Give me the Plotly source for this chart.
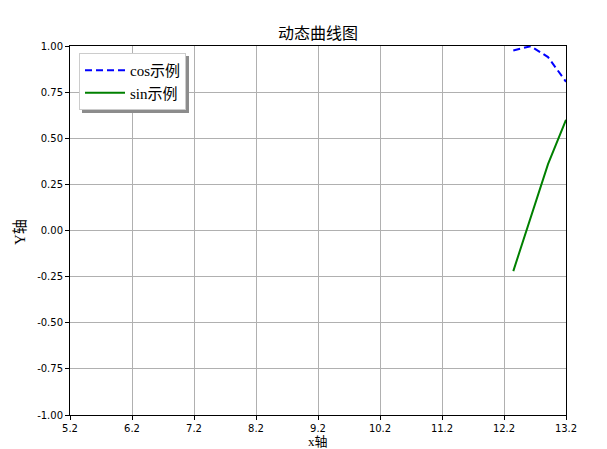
import plotly.graph_objects as go

# snapshot of the animation (last frame shown)
x_vals = [12.35, 12.63, 12.91, 13.2]
cos_vals = [0.976, 0.999, 0.940, 0.806]
sin_vals = [-0.22, 0.07, 0.36, 0.60]

x_ticks = [5.2, 6.2, 7.2, 8.2, 9.2, 10.2, 11.2, 12.2, 13.2]
x_ticktext = ["5.2", "6.2", "7.2", "8.2", "9.2", "10.2", "11.2", "12.2", "13.2"]
y_ticks = [-1.0, -0.75, -0.5, -0.25, 0.0, 0.25, 0.5, 0.75, 1.0]
y_ticktext = ["-1.00", "-0.75", "-0.50", "-0.25", "0.00", "0.25", "0.50", "0.75", "1.00"]

serif = "Liberation Serif, Noto Sans CJK SC, serif"
sans = "DejaVu Sans, sans-serif"

# page body has an 8px margin, so the figure is drawn 8px smaller
W, H = 599, 441
L, R, T, B = 62, 41, 38, 34
pw, ph = W - L - R, H - T - B

def px(x):
    return (x - 8 - L) / pw

def py(y):
    return (H - B - (y - 8)) / ph

fig = go.Figure()
fig.add_trace(go.Scatter(x=x_vals, y=cos_vals, mode="lines", name="cos示例",
                         line=dict(color="blue", width=2, dash="7px,4px")))
fig.add_trace(go.Scatter(x=x_vals, y=sin_vals, mode="lines", name="sin示例",
                         line=dict(color="green", width=2)))

axis_common = dict(showline=True, linecolor="black", linewidth=1, mirror=True,
                   showgrid=True, gridcolor="#b0b0b0", gridwidth=1,
                   ticks="outside", ticklen=4, tickcolor="black", automargin=False,
                   tickfont=dict(family=sans, size=10, color="black"), zeroline=False)

fig.update_xaxes(range=[5.2, 13.2], tickvals=x_ticks, ticktext=x_ticktext, **axis_common)
fig.update_yaxes(range=[-1.0, 1.0], tickvals=y_ticks, ticktext=y_ticktext, **axis_common)

# axis titles
fig.add_annotation(text="x轴", xref="paper", yref="paper", x=0.5, y=py(441.5),
                   xanchor="center", yanchor="middle", showarrow=False, borderpad=0,
                   font=dict(family=serif, size=13, color="black"))
fig.add_annotation(text="Y轴", xref="paper", yref="paper", x=px(20), y=py(232),
                   xanchor="center", yanchor="middle", textangle=-90, showarrow=False,
                   font=dict(family=serif, size=15, color="black"))

# legend shadow
fig.add_shape(type="rect", xref="paper", yref="paper",
              x0=px(82), x1=px(189), y0=py(113), y1=py(56),
              fillcolor="#8c8c8c", line=dict(width=0), layer="above")

fig.update_layout(
    width=W, height=H,
    margin=dict(l=L, r=R, t=T, b=B, autoexpand=False),
    paper_bgcolor="white", plot_bgcolor="white",
    title=dict(text="动态曲线图", x=(318 - 8) / W, xanchor="center", y=1 - (33 - 8) / H, yanchor="middle",
               font=dict(family=serif, size=16, color="black")),
    legend=dict(x=px(79), y=py(53), xanchor="left", yanchor="top",
                bgcolor="white", bordercolor="#cccccc", borderwidth=1,
                font=dict(family=serif, size=15, color="black"),
                tracegroupgap=0, itemwidth=40),
    showlegend=True,
)

fig.write_html("out.html")
